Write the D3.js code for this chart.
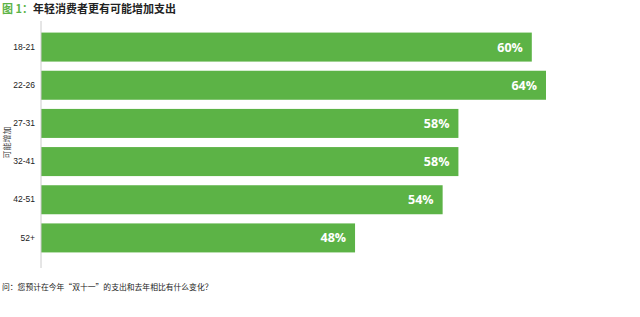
<!DOCTYPE html>
<html><head><meta charset="utf-8">
<script src="https://cdn.jsdelivr.net/npm/d3@7"></script>
<style>
html,body{margin:0;padding:0;background:#fff;}
svg{display:block;font-family:"Noto Sans CJK SC","Noto Sans",sans-serif;}
</style></head>
<body>
<svg id="chart" width="640" height="317"></svg>
<script>
const categories = ["18-21", "22-26", "27-31", "32-41", "42-51", "52+"];
const barValues = [62.2, 64, 52.9, 52.9, 50.9, 39.8];
const valueLabels = ["60%", "64%", "58%", "58%", "54%", "48%"];
const titlePrefix = "图 1：";
const titleText = "年轻消费者更有可能增加支出";
const axisTitle = "可能增加";
const footnote = "问：您预计在今年“双十一”的支出和去年相比有什么变化？";

const svg = d3.select("#chart");
const green = "#5cb346";

const x = d3.scaleLinear().domain([0, 64]).range([41, 546]);
const y = d3.scaleBand().domain(categories).range([28, 257]).paddingInner(0.24).paddingOuter(0.12);

// title
const t = svg.append("text").attr("x", 2).attr("y", 13)
  .attr("font-size", 11).attr("font-weight", "bold");
t.append("tspan").attr("fill", green).text(titlePrefix);
t.append("tspan").attr("fill", "#222").text(titleText);

// bars
svg.selectAll("rect.bar").data(categories).join("rect")
  .attr("class", "bar")
  .attr("x", x(0))
  .attr("y", d => y(d))
  .attr("width", (d, i) => x(barValues[i]) - x(0))
  .attr("height", y.bandwidth())
  .attr("fill", green);

// value labels
svg.selectAll("text.val").data(categories).join("text")
  .attr("class", "val")
  .attr("x", (d, i) => x(barValues[i]) - 9)
  .attr("y", d => y(d) + y.bandwidth() / 2 + 4.5)
  .attr("text-anchor", "end")
  .attr("fill", "#fff")
  .attr("font-weight", "bold")
  .attr("font-size", 12.5)
  .attr("font-family", "'Open Sans', 'Noto Sans', sans-serif")
  .text((d, i) => valueLabels[i]);

// y axis
const yAxis = d3.axisLeft(y).tickSize(0).tickPadding(6);
const ga = svg.append("g").attr("transform", `translate(${x(0)},0)`).call(yAxis);
ga.select(".domain").remove();
ga.selectAll("text").attr("font-size", 8.5).attr("fill", "#222")
  .attr("font-family", "'Liberation Sans', Arial, sans-serif");
svg.append("line").attr("x1", x(0)).attr("x2", x(0)).attr("y1", 21).attr("y2", 268)
  .attr("stroke", "#ccc").attr("stroke-width", 1);

// axis title
svg.append("text")
  .attr("transform", `translate(10,${(y.range()[0] + y.range()[1]) / 2}) rotate(-90)`)
  .attr("text-anchor", "middle")
  .attr("font-size", 8).attr("fill", "#444")
  .text(axisTitle);

// footnote
svg.append("text").attr("x", 2).attr("y", 290)
  .attr("font-size", 7.8).attr("fill", "#222")
  .text(footnote);
</script>
</body></html>
